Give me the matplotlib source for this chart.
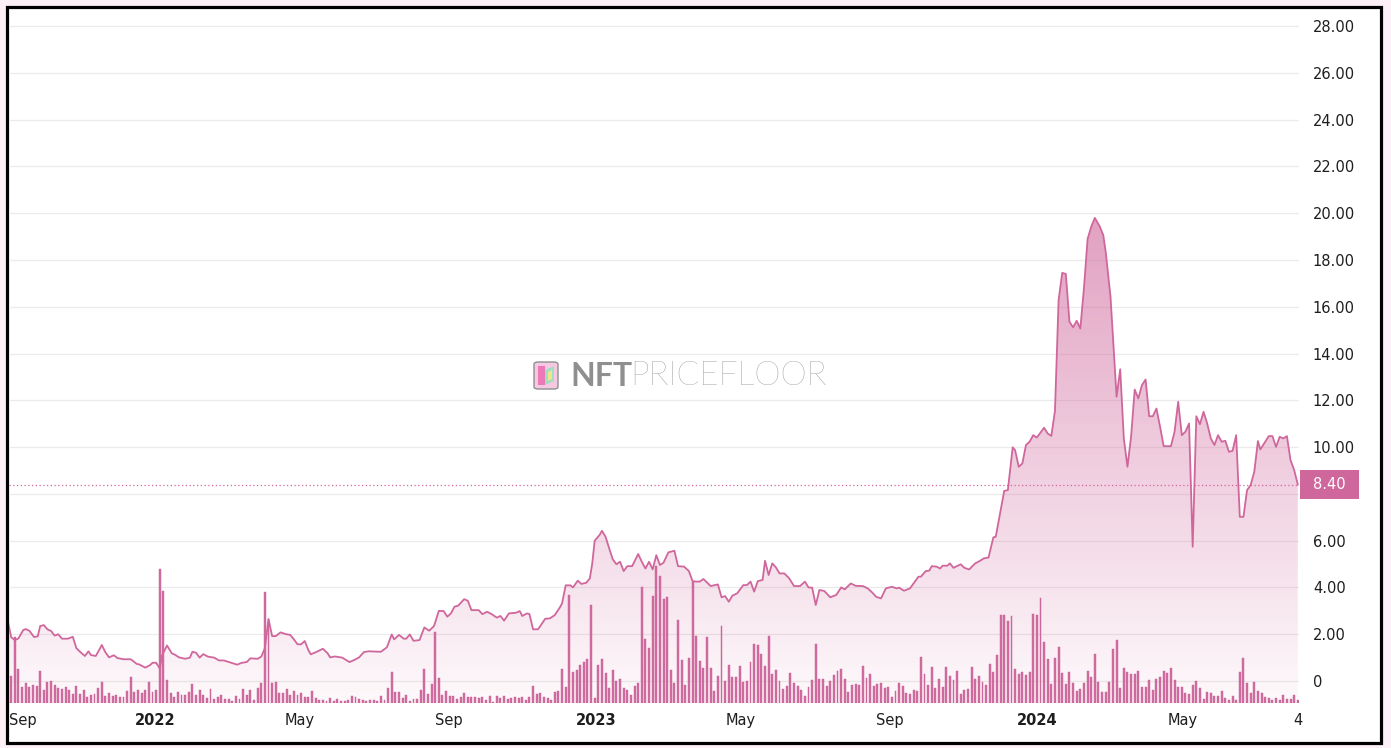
import numpy as np
import pandas as pd
import matplotlib
matplotlib.use("Agg")
import matplotlib.pyplot as plt
import matplotlib.dates as mdates
import matplotlib.transforms as mtransforms
from matplotlib.patches import Rectangle, FancyBboxPatch, Polygon

# ---- data ----
start = pd.Timestamp("2021-09-01")

# floor price, day offset from start -> price
price_days = [
    0, 3, 6, 9, 13, 15, 18, 22, 25, 27, 30, 33, 36, 39, 42, 45, 50, 54, 57, 60,
    64, 67, 69, 73, 75, 78, 81, 84, 88, 91, 96, 102, 107, 109, 114, 118, 120, 123, 126, 128,
    130, 132, 136, 138, 142, 147, 151, 153, 156, 159, 162, 166, 171, 175, 179, 185, 190, 194, 198, 201,
    207, 210, 213, 216, 219, 222, 226, 230, 234, 237, 240, 243, 246, 249, 251, 256, 261, 265, 267, 271,
    277, 283, 287, 291, 295, 299, 309, 314, 318, 320, 324, 328, 330, 333, 336, 341, 345, 349, 353, 357,
    361, 364, 367, 370, 373, 378, 381, 384, 390, 393, 397, 401, 405, 408, 411, 415, 421, 424, 426, 430,
    432, 435, 439, 441, 445, 449, 453, 457, 459, 462, 466, 468, 472, 475, 479, 482, 484, 486, 490, 492,
    495, 498, 501, 504, 507, 510, 513, 517, 522, 525, 528, 531, 534, 537, 540, 543, 547, 552, 555, 560,
    564, 567, 570, 573, 576, 582, 588, 591, 594, 597, 600, 604, 609, 612, 615, 618, 621, 625, 627, 630,
    633, 636, 639, 643, 647, 651, 656, 660, 663, 666, 669, 672, 676, 681, 686, 690, 693, 698, 702, 708,
    712, 716, 719, 723, 727, 732, 736, 738, 742, 747, 754, 756, 760, 763, 765, 769, 772, 774, 778, 780,
    783, 789, 792, 796, 801, 805, 808, 812, 816, 818, 825, 828, 832, 834, 837, 840, 843, 846, 849, 852,
    858, 861, 864, 867, 870, 873, 876, 879, 882, 885, 888, 891, 894, 897, 900, 904, 907, 909, 913, 915,
    918, 921, 924, 927, 930, 933, 936, 939, 942, 945, 948, 951, 954, 957, 963, 966, 969, 972, 975, 978,
    981, 984, 987, 990, 993, 996, 999, 1002, 1005, 1008, 1011, 1014, 1017, 1020, 1023, 1026, 1029, 1032, 1035, 1037,
    1041, 1044, 1047, 1050, 1053, 1056, 1059, 1062, 1065, 1068,
]
price_vals = [
    2.63, 1.87, 1.75, 1.82, 2.18, 2.22, 2.15, 1.88, 1.91, 2.35, 2.39, 2.21, 2.14, 1.94, 2.00, 1.81, 1.81, 1.89, 1.40, 1.25,
    1.07, 1.27, 1.11, 1.07, 1.25, 1.54, 1.23, 1.01, 1.10, 0.98, 0.93, 0.93, 0.73, 0.71, 0.57, 0.68, 0.78, 0.78, 0.54, 1.11,
    1.32, 1.52, 1.18, 1.14, 1.01, 0.95, 1.00, 1.25, 1.21, 1.00, 1.15, 1.04, 1.00, 0.88, 0.88, 0.78, 0.70, 0.78, 0.81, 0.97,
    0.95, 1.04, 1.40, 2.65, 1.92, 1.92, 2.08, 2.01, 1.97, 1.78, 1.57, 1.57, 1.71, 1.32, 1.14, 1.25, 1.38, 1.18, 1.01, 1.05,
    1.00, 0.81, 0.90, 1.01, 1.24, 1.27, 1.25, 1.44, 1.99, 1.78, 1.97, 1.81, 1.81, 1.99, 1.72, 1.75, 2.29, 2.15, 2.35, 3.00,
    2.99, 2.75, 2.89, 3.18, 3.22, 3.50, 3.43, 3.03, 3.03, 2.86, 2.96, 2.85, 2.71, 2.78, 2.58, 2.89, 2.92, 2.99, 2.78, 2.89,
    2.86, 2.21, 2.21, 2.35, 2.66, 2.68, 2.82, 3.13, 3.32, 4.09, 4.09, 4.00, 4.29, 4.15, 4.20, 4.39, 5.03, 6.00, 6.24, 6.42,
    6.17, 5.67, 5.20, 4.99, 5.10, 4.70, 4.91, 4.91, 5.43, 5.10, 4.81, 5.10, 4.77, 5.38, 4.96, 5.06, 5.50, 5.57, 4.91, 4.89,
    4.70, 4.27, 4.25, 4.25, 4.36, 4.06, 4.13, 3.58, 3.63, 3.39, 3.65, 3.75, 4.10, 4.10, 4.25, 3.82, 4.27, 4.32, 5.14, 4.53,
    5.03, 4.86, 4.60, 4.60, 4.39, 4.06, 4.06, 4.25, 4.00, 3.99, 3.25, 3.89, 3.85, 3.58, 3.68, 4.00, 3.92, 4.17, 4.07, 4.06,
    3.96, 3.77, 3.60, 3.53, 3.96, 4.03, 3.96, 3.99, 3.86, 3.96, 4.46, 4.46, 4.70, 4.72, 4.91, 4.89, 4.81, 4.93, 4.93, 5.03,
    4.84, 4.99, 4.84, 4.77, 5.03, 5.14, 5.24, 5.28, 6.14, 6.17, 8.13, 8.16, 9.99, 9.87, 9.16, 9.30, 10.09, 10.23, 10.51, 10.41,
    10.83, 10.58, 10.48, 11.55, 16.28, 17.45, 17.40, 15.36, 15.12, 15.40, 15.07, 16.80, 18.90, 19.42, 19.80, 19.44, 19.06, 18.35, 16.42, 14.71,
    12.15, 13.33, 10.37, 9.16, 10.44, 12.46, 12.08, 12.65, 12.89, 11.32, 11.32, 11.65, 10.87, 10.04, 10.04, 10.66, 11.94, 10.51, 10.66, 11.01,
    5.74, 11.32, 10.98, 11.51, 11.01, 10.37, 10.09, 10.51, 10.23, 10.27, 9.80, 9.84, 10.51, 7.02, 7.02, 8.16, 8.38, 8.95, 10.26, 9.90,
    10.23, 10.47, 10.47, 10.01, 10.44, 10.37, 10.47, 9.44, 9.02, 8.40,
]
last_price = 8.40

# traded volume, one bar every 3 days from start (arbitrary units)
vol_step = 3
volume = [
    2, 27, 66, 34, 16, 20, 16, 18, 17, 32, 13, 21, 22, 18, 15, 14, 16, 13, 9, 17,
    9, 13, 6, 8, 9, 15, 21, 7, 10, 7, 8, 6, 6, 12, 26, 11, 13, 10, 13, 21,
    11, 13, 134, 112, 23, 10, 6, 11, 8, 8, 11, 19, 8, 13, 8, 5, 14, 4, 6, 8,
    4, 4, 2, 7, 4, 14, 8, 13, 3, 15, 20, 111, 84, 20, 21, 10, 10, 14, 8, 12,
    8, 10, 6, 6, 12, 5, 3, 3, 2, 5, 2, 4, 2, 2, 3, 7, 6, 4, 3, 2,
    3, 3, 2, 7, 3, 15, 31, 11, 11, 5, 8, 2, 4, 4, 13, 34, 9, 19, 71, 25,
    8, 12, 7, 7, 4, 6, 10, 6, 6, 6, 5, 6, 3, 7, 1, 7, 5, 7, 4, 5,
    6, 5, 6, 3, 6, 17, 9, 10, 6, 5, 3, 11, 12, 34, 16, 108, 31, 33, 38, 41,
    44, 98, 5, 38, 44, 30, 15, 33, 22, 24, 15, 13, 8, 17, 20, 116, 64, 55, 107, 137,
    127, 104, 106, 33, 20, 83, 43, 18, 45, 121, 67, 42, 35, 66, 35, 12, 27, 77, 22, 38,
    26, 26, 37, 21, 22, 41, 59, 58, 49, 37, 67, 29, 33, 22, 14, 17, 30, 20, 17, 13,
    7, 16, 23, 59, 24, 24, 17, 22, 28, 32, 34, 24, 11, 18, 19, 18, 37, 25, 29, 17,
    19, 20, 15, 16, 6, 12, 20, 17, 10, 9, 13, 12, 46, 29, 18, 36, 15, 24, 16, 36,
    27, 23, 32, 9, 13, 14, 36, 24, 27, 21, 18, 39, 31, 48, 88, 88, 82, 87, 34, 29,
    31, 28, 31, 89, 88, 105, 61, 44, 19, 45, 56, 30, 19, 31, 20, 12, 14, 20, 32, 26,
    49, 21, 11, 11, 21, 54, 63, 15, 35, 31, 29, 29, 32, 16, 16, 23, 13, 24, 26, 32,
    30, 35, 23, 16, 16, 10, 9, 18, 22, 15, 4, 11, 10, 7, 7, 12, 5, 3, 7, 3,
    31, 45, 20, 10, 21, 12, 10, 6, 5, 3, 5, 3, 8, 4, 4, 8, 3,
]

y_ticks = list(range(0, 29, 2))
x_tick_dates = ["2021-09-02", "2022-01-01", "2022-05-01", "2022-09-01", "2023-01-01",
                "2023-05-01", "2023-09-01", "2024-01-01", "2024-05-01", "2024-08-04"]
x_tick_labels = ["Sep", "2022", "May", "Sep", "2023", "May", "Sep", "2024", "May", "4"]

# ---- style ----
PINK = "#d0679c"
PINK_RGB = (0.816, 0.404, 0.612)
W, H = 1391, 748

fig = plt.figure(figsize=(W / 100, H / 100), dpi=100, facecolor="#fdf1f7")
fig.patches.append(Rectangle((7 / W, 1 - 743 / H), (1381 - 7) / W, (743 - 7) / H,
                             transform=fig.transFigure, facecolor="white",
                             edgecolor="black", linewidth=2.3, zorder=-5))

ax = fig.add_axes([9 / W, 1 - 703 / H, (1299 - 9) / W, (703 - 9) / H])
ax.patch.set_visible(False)

xd = mdates.date2num(start + pd.to_timedelta(price_days, unit="D"))
vd = mdates.date2num(start + pd.to_timedelta(np.arange(len(volume)) * vol_step, unit="D"))
ymin, ymax = -0.94, 28.73

# gradient area under the price line
fill = ax.fill_between(xd, price_vals, ymin, facecolor="none", linewidth=0)
n = 256
grad = np.zeros((n, 1, 4))
grad[..., 0], grad[..., 1], grad[..., 2] = PINK_RGB
grad[:, 0, 3] = np.linspace(0.04, 0.62, n)
img = ax.imshow(grad, extent=[xd[0], xd[-1], ymin, max(price_vals)], origin="lower",
                aspect="auto", zorder=1, interpolation="bilinear")
img.set_clip_path(fill.get_paths()[0], transform=ax.transData)

ax.axhline(last_price, color=PINK, lw=0.9, ls=(0, (1, 2)), zorder=2)

# volume bars on their own scale, price line above them
vol_ax = ax.twinx()
vol_ax.bar(vd, volume, width=1.6, color="#d26ea2", edgecolor="#c85c93", linewidth=0.3, zorder=2)
vol_ax.plot(xd, price_vals, color=PINK, lw=1.3, transform=ax.transData, zorder=3)
vol_ax.set_ylim(0, max(volume) * 5.07)
vol_ax.set_yticks([])

x0 = mdates.date2num(start) + 1.2
x1 = xd[-1] + 1.0
ax.set_xlim(x0, x1)
ax.set_ylim(ymin, ymax)
vol_ax.set_xlim(x0, x1)

for a in (ax, vol_ax):
    for s in a.spines.values():
        s.set_visible(False)

# the 8.00 label sits under the last-price tag in the reference
ax.set_yticks(y_ticks)
ax.set_yticklabels(["0" if v == 0 else ("" if v == 8 else f"{v:.2f}") for v in y_ticks])
ax.yaxis.tick_right()
ax.yaxis.grid(True, color="#ebebeb", lw=0.9)
ax.set_axisbelow(True)
ax.tick_params(axis="y", length=0, pad=10, labelsize=10.5, labelcolor="#1e1e1e")

xt = mdates.date2num(pd.to_datetime(x_tick_dates))
xt[0] = x0
ax.set_xticks(xt)
ax.set_xticklabels(x_tick_labels)
ax.tick_params(axis="x", length=0, pad=7, labelsize=10.5, labelcolor="#1e1e1e")
for i, lab in enumerate(ax.get_xticklabels()):
    if x_tick_labels[i].isdigit() and len(x_tick_labels[i]) == 4:
        lab.set_fontweight("bold")
ax.get_xticklabels()[0].set_ha("left")

# last price tag
tr = mtransforms.blended_transform_factory(fig.transFigure, ax.transData)
fig.add_artist(Rectangle((1300 / W, last_price - 0.6), 59 / W, 1.2, transform=tr,
                         facecolor=PINK, edgecolor="none", zorder=5))
fig.text(1329.5 / W, last_price, f"{last_price:.2f}", transform=tr, color="white",
         fontsize=10.5, ha="center", va="center", zorder=6)

# watermark
wy = 1 - 376 / H
fig.text(570 / W, wy, "NFT", fontsize=23, fontweight="bold", color="#8f8f8f",
         ha="left", va="center", family=["Lato", "DejaVu Sans"])
fig.text(630 / W, wy, "PRICEFLOOR", fontsize=24, fontweight="light", color="#808080",
         ha="left", va="center", family=["Lato", "DejaVu Sans"])
fig.add_artist(FancyBboxPatch((534 / W, 1 - 389 / H), 24 / W, 27 / H,
                              boxstyle="round,pad=0,rounding_size=0.003",
                              transform=fig.transFigure, facecolor="#f7c8e2",
                              edgecolor="#8f8f8f", linewidth=1.0))
fig.add_artist(Polygon([(538 / W, 1 - 366 / H), (545 / W, 1 - 366 / H),
                        (545 / W, 1 - 385 / H), (538 / W, 1 - 385 / H)],
                       closed=True, transform=fig.transFigure, facecolor="#ec78b8", edgecolor="none"))
fig.add_artist(Polygon([(545 / W, 1 - 370 / H), (554 / W, 1 - 366 / H),
                        (554 / W, 1 - 381 / H), (545 / W, 1 - 385 / H)],
                       closed=True, transform=fig.transFigure, facecolor="#9fe0c2", edgecolor="none"))
fig.add_artist(Polygon([(548 / W, 1 - 372 / H), (552 / W, 1 - 370 / H),
                        (552 / W, 1 - 379 / H), (548 / W, 1 - 381 / H)],
                       closed=True, transform=fig.transFigure, facecolor="#efe58c", edgecolor="none"))

fig.savefig("out.png", dpi=100, facecolor=fig.get_facecolor())
